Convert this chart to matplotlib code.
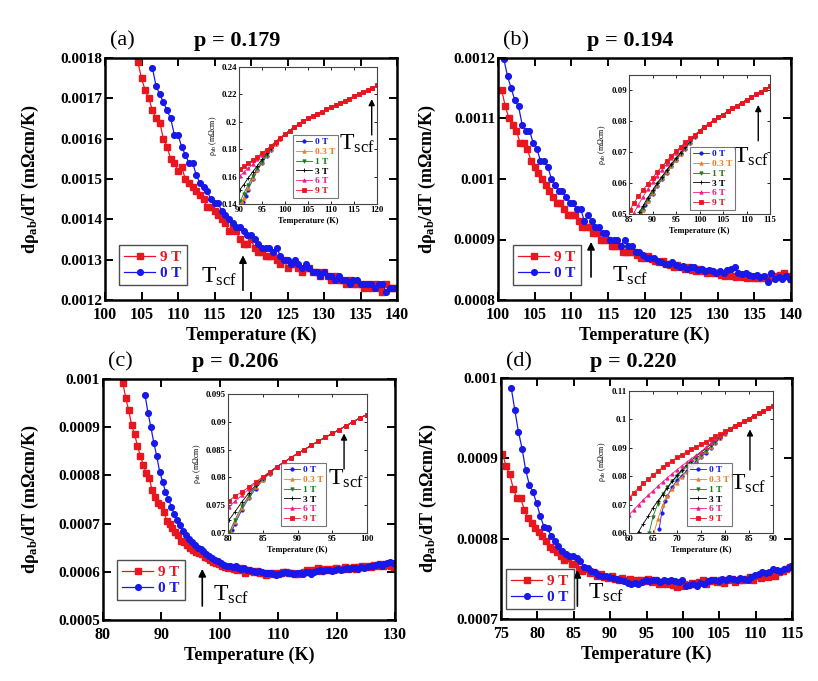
import numpy as np
import matplotlib
matplotlib.use('Agg')
import matplotlib.pyplot as plt
from matplotlib.ticker import FormatStrFormatter, MultipleLocator

plt.rcParams.update({
    'font.family': ['Liberation Serif', 'DejaVu Serif'],
    'font.weight': 'bold',
    'mathtext.fontset': 'custom',
    'mathtext.rm': 'Liberation Serif:weight=bold',
    'mathtext.bf': 'Liberation Serif:weight=bold',
    'mathtext.it': 'Liberation Serif:italic:weight=bold',
    'mathtext.sf': 'Liberation Serif:weight=normal',
    'mathtext.default': 'rm',
})

# ---------------- main-panel data (dρ/dT, 0.5 K steps) ----------------
a_T0_9T, a_T0_0T = 104.5, 106.5
a_9T = [0.00179,0.00175,0.00172,0.00170,0.00167,0.00165,0.00164,0.00160,0.00158,0.00155,
        0.00154,0.00152,0.00153,0.00150,0.00149,0.00148,0.00147,0.00146,0.00145,0.00143,
        0.00143,0.00142,0.00141,0.00140,0.00139,0.00137,0.00138,0.00137,0.00135,0.00134,
        0.00134,0.00135,0.00133,0.00132,0.00132,0.00131,0.00131,0.00131,0.00130,0.00129,
        0.00130,0.00128,0.00129,0.00129,0.00128,0.00127,0.00128,0.00128,0.00127,0.00127,
        0.00126,0.00127,0.00126,0.00125,0.00126,0.00125,0.00125,0.00124,0.00125,0.00124,
        0.00124,0.00124,0.00123,0.00124,0.00123,0.00124,0.00123,0.00122,0.00124,0.00123,0.00123,0.00123]
a_0T = [0.001775,0.00173,0.00171,0.00169,0.00167,0.00165,0.00161,0.00161,0.00158,0.00156,
        0.00154,0.00154,0.00151,0.00149,0.00148,0.00147,0.00145,0.00144,0.00144,0.00142,
        0.00141,0.00140,0.00139,0.00138,0.00138,0.00137,0.00136,0.00136,0.00135,0.00134,
        0.00133,0.00133,0.00133,0.00132,0.00133,0.00131,0.00130,0.00130,0.00129,0.00130,
        0.00129,0.00128,0.00129,0.00128,0.00127,0.00127,0.00126,0.00127,0.00126,0.00126,
        0.00125,0.00126,0.00125,0.00125,0.00124,0.00125,0.00125,0.00124,0.00124,0.00124,
        0.00124,0.00123,0.00124,0.00124,0.00122,0.00123,0.00123,0.00123]

b_T0_9T, b_T0_0T = 100.5, 100.8
b_9T = [0.001147,0.00112,0.00110,0.00109,0.00108,0.00106,0.00106,0.00105,0.00103,0.00102,
        0.00101,0.00100,0.00099,0.00098,0.00097,0.00096,0.00096,0.00095,0.00094,0.00094,
        0.00094,0.00093,0.00092,0.00092,0.00092,0.00091,0.00091,0.00090,0.00090,0.00090,
        0.00089,0.00089,0.00089,0.00088,0.00088,0.00088,0.00088,0.000875,0.00087,0.00087,
        0.000872,0.000868,0.000865,0.000862,0.000865,0.00086,0.000858,0.000855,0.000858,0.000855,
        0.000852,0.000855,0.00085,0.000848,0.000852,0.000848,0.000845,0.000848,0.000845,0.000845,
        0.000842,0.00084,0.000842,0.00084,0.000838,0.00084,0.000838,0.000837,0.000838,0.000836,
        0.000837,0.000836,0.000838,0.000836,0.000838,0.00084,0.000842,0.000845,0.00084,0.000835]
b_0T = [0.001198,0.00117,0.00115,0.00113,0.00112,0.00109,0.00108,0.00108,0.00106,0.00105,
        0.00103,0.00103,0.00102,0.00100,0.00099,0.00098,0.00098,0.00097,0.00096,0.00096,
        0.00095,0.00095,0.00093,0.00094,0.00093,0.00092,0.00092,0.00091,0.00091,0.00090,
        0.00090,0.00090,0.00089,0.00090,0.00089,0.00089,0.00088,0.00088,0.000875,0.00087,
        0.00087,0.00087,0.000865,0.000862,0.00086,0.00086,0.000862,0.000858,0.000855,0.000857,
        0.000852,0.000855,0.000855,0.00085,0.000852,0.000848,0.00085,0.000848,0.000845,0.000848,
        0.000845,0.00085,0.000852,0.000855,0.000845,0.000843,0.000845,0.000842,0.00084,0.000842,
        0.000838,0.00084,0.00083,0.000845,0.000835,0.000838,0.000835,0.00084,0.000835]

c_T0_9T, c_T0_0T = 83.4, 87.2
c_9T = [0.000992,0.000960,0.000935,0.000905,0.000885,0.000862,0.000840,0.000822,0.000805,0.000795,
        0.000770,0.000755,0.000742,0.000738,0.000725,0.000706,0.000700,0.000690,0.000683,0.000676,
        0.000664,0.000662,0.000655,0.000650,0.000646,0.000641,0.000638,0.000636,0.000630,0.000628,
        0.000625,0.000620,0.000618,0.000617,0.000612,0.000610,0.000607,0.000609,0.000605,0.000604,
        0.000607,0.000603,0.000598,0.000603,0.000602,0.000600,0.000601,0.000598,0.000597,0.000594,
        0.000597,0.000596,0.000598,0.000596,0.000598,0.000600,0.000599,0.000597,0.000597,0.000596,
        0.000596,0.000597,0.000599,0.000603,0.000600,0.000604,0.000603,0.000607,0.000602,0.000605,
        0.000604,0.000606,0.000603,0.000607,0.000606,0.000605,0.000609,0.000606,0.000608,0.000610,
        0.000606,0.000609,0.000611,0.000610,0.000612,0.000609,0.000614,0.000612,0.000616,0.000613,
        0.000617,0.000615,0.000612,0.000610]
c_0T = [0.000967,0.000930,0.000900,0.000868,0.000840,0.000808,0.000787,0.000766,0.000752,0.000735,
        0.000719,0.000707,0.000698,0.000685,0.000676,0.000668,0.000662,0.000656,0.000650,0.000647,
        0.000643,0.000637,0.000633,0.000628,0.000624,0.000622,0.000618,0.000614,0.000613,0.000611,
        0.000609,0.000612,0.000607,0.000606,0.000608,0.000604,0.000603,0.000601,0.000600,0.000601,
        0.000599,0.000598,0.000597,0.000598,0.000596,0.000593,0.000595,0.000597,0.000599,0.000598,
        0.000597,0.000595,0.000597,0.000598,0.000596,0.000599,0.000600,0.000595,0.000600,0.000601,
        0.000603,0.000602,0.000604,0.000603,0.000601,0.000604,0.000606,0.000604,0.000605,0.000607,
        0.000606,0.000608,0.000607,0.000605,0.000609,0.000608,0.000610,0.000612,0.000611,0.000614,
        0.000616,0.000613,0.000617,0.000619,0.000620,0.000618]

d_T0_9T, d_T0_0T = 75.2, 76.4
d_9T = [0.000906,0.000890,0.000880,0.000862,0.000850,0.000850,0.000836,0.000826,0.000820,0.000813,
        0.000808,0.000803,0.000797,0.000790,0.000787,0.000783,0.000778,0.000774,0.000776,0.000768,
        0.000768,0.000762,0.000760,0.000762,0.000757,0.000758,0.000754,0.000756,0.000752,0.000751,
        0.000753,0.000750,0.000749,0.000751,0.000748,0.000750,0.000746,0.000748,0.000749,0.000747,
        0.000750,0.000746,0.000748,0.000744,0.000746,0.000743,0.000745,0.000742,0.000740,0.000741,
        0.000744,0.000742,0.000745,0.000743,0.000746,0.000748,0.000744,0.000747,0.000749,0.000746,
        0.000748,0.000745,0.000748,0.000750,0.000746,0.000749,0.000748,0.000750,0.000752,0.000749,
        0.000753,0.000751,0.000754,0.000752,0.000756,0.000754,0.000758,0.000760,0.000762,0.000765]
d_0T = [0.000988,0.000960,0.000933,0.000912,0.000885,0.000867,0.000858,0.000844,0.000828,0.000815,
        0.000813,0.000803,0.000797,0.000791,0.000785,0.000781,0.000779,0.000779,0.000776,0.000772,
        0.000765,0.000763,0.000760,0.000758,0.000755,0.000753,0.000754,0.000752,0.000751,0.000750,
        0.000748,0.000747,0.000745,0.000744,0.000745,0.000744,0.000746,0.000748,0.000747,0.000749,
        0.000748,0.000746,0.000748,0.000747,0.000749,0.000747,0.000746,0.000748,0.000741,0.000742,
        0.000743,0.000741,0.000745,0.000744,0.000747,0.000748,0.000749,0.000747,0.000750,0.000749,
        0.000751,0.000750,0.000749,0.000751,0.000750,0.000749,0.000752,0.000755,0.000756,0.000758,
        0.000757,0.000759,0.000762,0.000761,0.000760,0.000762,0.000764,0.000766]

# ---------------- inset data (ρab vs T for each field) ----------------
fields = ['0 T', '0.3 T', '1 T', '3 T', '6 T', '9 T']

ia_T_common = [100,101,102,103,104,105,106,107,108,109,110,111,112,113,114,115,116,117,118,119,120]
ia_rho_common = [0.191,0.1935,0.196,0.1983,0.2005,0.2025,0.2042,0.2058,0.2074,0.209,0.2106,
                 0.2122,0.2138,0.2154,0.217,0.2186,0.2202,0.2218,0.2234,0.225,0.2265]
ia_T_low = {
    '0 T':   [90.9,91.5,92,93,94,95,96,97,98,99],
    '0.3 T': [90.6,91,92,93,94,95,96,97,98,99],
    '1 T':   [90.3,91,92,93,94,95,96,97,98,99],
    '3 T':   [90.2,91,92,93,94,95,96,97,98,99],
    '6 T':   [90.2,91,92,93,94,95,96,97,98,99],
    '9 T':   [90.2,91,92,93,94,95,96,97,98,99],
}
ia_rho_low = {
    '0 T':   [0.1415,0.146,0.1505,0.158,0.1645,0.17,0.175,0.1795,0.1835,0.1872],
    '0.3 T': [0.1412,0.1445,0.152,0.159,0.165,0.1705,0.1755,0.18,0.184,0.1875],
    '1 T':   [0.142,0.1475,0.154,0.1605,0.166,0.171,0.176,0.1802,0.1842,0.1877],
    '3 T':   [0.1505,0.154,0.159,0.1635,0.168,0.1725,0.177,0.181,0.1847,0.188],
    '6 T':   [0.1605,0.163,0.166,0.169,0.1725,0.176,0.1793,0.1825,0.1855,0.1885],
    '9 T':   [0.1655,0.1675,0.1697,0.172,0.1745,0.177,0.1797,0.1827,0.1856,0.1885],
}

ib_T_common = [100,101,102,103,104,105,106,107,108,109,110,111,112,113,114,115]
ib_rho_common = [0.0769,0.0781,0.0792,0.0803,0.0813,0.0822,0.0832,0.0842,0.0851,0.086,
                 0.0869,0.0878,0.0887,0.0896,0.0905,0.0913]
ib_T_low = {
    '0 T':   [87.9,88.5,89,90,91,92,93,94,95,96,97,98,99],
    '0.3 T': [87.6,88,89,90,91,92,93,94,95,96,97,98,99],
    '1 T':   [87.4,88,89,90,91,92,93,94,95,96,97,98,99],
    '3 T':   [87.2,88,89,90,91,92,93,94,95,96,97,98,99],
    '6 T':   [86,87,88,89,90,91,92,93,94,95,96,97,98,99],
    '9 T':   [85.2,86,87,88,89,90,91,92,93,94,95,96,97,98,99],
}
ib_rho_low = {
    '0 T':   [0.0513,0.0528,0.0541,0.0566,0.059,0.0612,0.0633,0.0654,0.0674,0.0693,0.0712,0.0731,0.0750],
    '0.3 T': [0.0503,0.0514,0.0543,0.0569,0.0593,0.0615,0.0636,0.0656,0.0676,0.0695,0.0714,0.0732,0.0751],
    '1 T':   [0.0503,0.0519,0.0547,0.0572,0.0596,0.0618,0.0639,0.0659,0.0678,0.0697,0.0715,0.0733,0.0752],
    '3 T':   [0.0505,0.0527,0.0553,0.0577,0.06,0.0621,0.0642,0.0662,0.0681,0.0699,0.0717,0.0735,0.0753],
    '6 T':   [0.0502,0.053,0.0556,0.058,0.0602,0.0623,0.0643,0.0662,0.068,0.0697,0.0713,0.0728,0.0742,0.0755],
    '9 T':   [0.0513,0.0535,0.0557,0.0578,0.0598,0.0617,0.0636,0.0654,0.0671,0.0688,0.0703,0.0718,0.0732,0.0745,0.0757],
}

ic_T_common = [87,88,89,90,91,92,93,94,95,96,97,98,99,100]
ic_rho_common = [0.0819,0.0827,0.0835,0.0843,0.085,0.0858,0.0865,0.0872,0.0879,0.0886,0.0893,0.09,0.0907,0.0913]
ic_T_low = {
    '0 T':   [80.6,81,82,83,84,85,86],
    '0.3 T': [80.4,81,82,83,84,85,86],
    '1 T':   [80.2,81,82,83,84,85,86],
    '3 T':   [80.1,81,82,83,84,85,86],
    '6 T':   [80.1,81,82,83,84,85,86],
    '9 T':   [80.1,81,82,83,84,85,86],
}
ic_rho_low = {
    '0 T':   [0.0705,0.0716,0.0742,0.0763,0.078,0.0795,0.0807],
    '0.3 T': [0.0702,0.072,0.0745,0.0765,0.0782,0.0796,0.0808],
    '1 T':   [0.0701,0.0724,0.0748,0.0767,0.0784,0.0797,0.0808],
    '3 T':   [0.0723,0.0738,0.0756,0.0772,0.0786,0.0799,0.0809],
    '6 T':   [0.0746,0.0757,0.0768,0.0779,0.079,0.08,0.081],
    '9 T':   [0.0758,0.0766,0.0774,0.0783,0.0792,0.0801,0.081],
}

id_T_common = [81,82,83,84,85,86,87,88,89,90]
id_rho_common = [0.0967,0.0976,0.0985,0.0994,0.1003,0.1012,0.1021,0.103,0.1039,0.1048]
id_T_low = {
    '0 T':   [66.3,66.8,67.5,68,69,70,71,72,73,74,75,76,77,78,79,80],
    '0.3 T': [65.2,66,67,68,69,70,71,72,73,74,75,76,77,78,79,80],
    '1 T':   [64.2,65,66,67,68,69,70,71,72,73,74,75,76,77,78,79,80],
    '3 T':   [61.8,62,63,64,65,66,67,68,69,70,71,72,73,74,75,76,77,78,79,80],
    '6 T':   [60,61,62,63,64,65,66,67,68,69,70,71,72,73,74,75,76,77,78,79,80],
    '9 T':   [60,61,62,63,64,65,66,67,68,69,70,71,72,73,74,75,76,77,78,79,80],
}
id_rho_low = {
    '0 T':   [0.0614,0.067,0.0711,0.073,0.0762,0.0785,0.0802,0.0818,0.0834,0.0849,0.0866,0.0883,0.0901,0.0918,0.0935,0.0952],
    '0.3 T': [0.06,0.0648,0.07,0.073,0.0755,0.0777,0.0797,0.0815,0.0832,0.0848,0.087,0.0887,0.0903,0.0919,0.0935,0.095],
    '1 T':   [0.06,0.0658,0.0702,0.0737,0.0762,0.0782,0.08,0.0817,0.0833,0.0848,0.0862,0.0876,0.089,0.0905,0.092,0.0935,0.095],
    '3 T':   [0.06,0.0605,0.0633,0.0659,0.0689,0.0713,0.0735,0.0758,0.0782,0.0803,0.0822,0.0839,0.0855,0.087,0.0884,0.0898,0.0912,0.0926,0.0939,0.0952],
    '6 T':   [0.0664,0.0682,0.07,0.0717,0.0733,0.0749,0.0765,0.078,0.0795,0.0809,0.0823,0.0836,0.0849,0.0862,0.0874,0.0886,0.0902,0.0916,0.093,0.0942,0.0953],
    '9 T':   [0.0724,0.0742,0.0759,0.0775,0.079,0.0804,0.0818,0.0831,0.0843,0.0855,0.0866,0.0876,0.0886,0.0895,0.0904,0.0913,0.0922,0.0931,0.094,0.0949,0.0958],
}

panel_labels = ['(a)', '(b)', '(c)', '(d)']
dopings = ['p = 0.179', 'p = 0.194', 'p = 0.206', 'p = 0.220']

# ---------------- styling ----------------
RED = '#e8161e'
BLUE = '#1818e8'
field_style = {
    '0 T':   dict(color=BLUE, marker='o', ms=2.4),
    '0.3 T': dict(color='#f47b20', marker='^', ms=2.4),
    '1 T':   dict(color='#1d7a1d', marker='v', ms=2.4),
    '3 T':   dict(color='black', marker='+', ms=2.6),
    '6 T':   dict(color='#ec1c8c', marker='^', ms=2.4),
    '9 T':   dict(color=RED, marker='s', ms=3.4),
}

W, H = 818, 681
fig = plt.figure(figsize=(W / 100, H / 100), dpi=100)


def rect(l, t, r, b):
    return [l / W, 1 - b / H, (r - l) / W, (b - t) / H]


TSCF = r'T$_{\mathsf{scf}}$'

panels = [
    dict(main=(105, 58, 397, 300), inset=(239, 67, 377, 204),
         xlim=(100, 140), xstep=5, ylim=(0.0012, 0.0018),
         red=(a_T0_9T, a_9T), blue=(a_T0_0T, a_0T),
         leg=(119, 245), ileg=(293, 135),
         arrow=(118.9, 0.001224, 0.001311), tlab=(113.2, 0.001242),
         ixlim=(90, 120), iylim=(0.14, 0.24), iystep=0.02,
         ins=(ia_T_common, ia_rho_common, ia_T_low, ia_rho_low),
         iarrow=(118.85, 0.1904, 0.2166), itlab=(111.7, 0.1794),
         ylab_x=30, title_y=41),
    dict(main=(498, 58, 791, 300), inset=(629, 75, 770, 214),
         xlim=(100, 140), xstep=5, ylim=(0.0008, 0.0012),
         red=(b_T0_9T, b_9T), blue=(b_T0_0T, b_0T),
         leg=(513, 245), ileg=(690, 147),
         arrow=(112.7, 0.000838, 0.000896), tlab=(115.5, 0.00083),
         ixlim=(85, 115), iylim=(0.05, 0.095), iystep=0.01,
         ins=(ib_T_common, ib_rho_common, ib_T_low, ib_rho_low),
         iarrow=(112.5, 0.0737, 0.0853), itlab=(107.1, 0.0665),
         ylab_x=427, title_y=41),
    dict(main=(103, 379, 395, 620), inset=(228, 394, 367, 533),
         xlim=(80, 130), xstep=10, ylim=(0.0005, 0.001),
         red=(c_T0_9T, c_9T), blue=(c_T0_0T, c_0T),
         leg=(117, 560), ileg=(281, 463),
         arrow=(97.0, 0.000529, 0.000606), tlab=(98.9, 0.000541),
         ixlim=(80, 100), iylim=(0.07, 0.095), iystep=0.005,
         ins=(ic_T_common, ic_rho_common, ic_T_low, ic_rho_low),
         iarrow=(96.7, 0.0815, 0.0879), itlab=(94.4, 0.0786),
         ylab_x=30, title_y=362),
    dict(main=(501, 378, 792, 619), inset=(629, 391, 773, 533),
         xlim=(75, 115), xstep=5, ylim=(0.0007, 0.001),
         red=(d_T0_9T, d_9T), blue=(d_T0_0T, d_0T),
         leg=(506, 569), ileg=(687, 463),
         arrow=(85.5, 0.000716, 0.000761), tlab=(87.0, 0.000725),
         ixlim=(60, 90), iylim=(0.06, 0.11), iystep=0.01,
         ins=(id_T_common, id_rho_common, id_T_low, id_rho_low),
         iarrow=(85.2, 0.0822, 0.0965), itlab=(81.0, 0.0751),
         ylab_x=428, title_y=362),
]

for i, p in enumerate(panels):
    l, t, r, b = p['main']
    ax = fig.add_axes(rect(l, t, r, b))
    T0r, vr = p['red']
    T0b, vb = p['blue']
    Tr = T0r + 0.5 * np.arange(len(vr))
    Tb = T0b + 0.5 * np.arange(len(vb))
    ax.plot(Tr, vr, '-', color=RED, marker='s', ms=4.3, lw=0.9, label='9 T')
    ax.plot(Tb, vb, '-', color=BLUE, marker='o', ms=4.1, lw=0.9, label='0 T')
    ax.set_xlim(*p['xlim'])
    ax.set_ylim(*p['ylim'])
    ax.xaxis.set_major_locator(MultipleLocator(p['xstep']))
    ax.yaxis.set_major_locator(MultipleLocator(0.0001))
    ax.yaxis.set_major_formatter(FormatStrFormatter('%g'))
    ax.tick_params(direction='in', top=True, right=True, length=6, width=1.4)
    ax.tick_params(axis='x', labelsize=11.5, pad=5)
    ax.tick_params(axis='y', labelsize=11.0, pad=2)
    for s in ax.spines.values():
        s.set_linewidth(1.8)
    for lab in ax.get_xticklabels() + ax.get_yticklabels():
        lab.set_fontweight('bold')

    leg = ax.legend(loc='upper left', bbox_to_anchor=(p['leg'][0] / W, 1 - p['leg'][1] / H),
                    bbox_transform=fig.transFigure, borderaxespad=0, fontsize=11,
                    handlelength=2.0, handletextpad=0.35, borderpad=0.35, labelspacing=0.15,
                    numpoints=1, fancybox=False, frameon=True, edgecolor='#222222')
    leg.get_frame().set_linewidth(1.0)
    for txt, c in zip(leg.get_texts(), [RED, BLUE]):
        txt.set_color(c)
        txt.set_fontweight('bold')

    # Tscf arrow and label
    xa, y0, y1 = p['arrow']
    ax.annotate('', xy=(xa, y1), xytext=(xa, y0),
                arrowprops=dict(arrowstyle='-|>', color='black', lw=1.2, mutation_scale=11,
                                shrinkA=0, shrinkB=0))
    ax.text(p['tlab'][0], p['tlab'][1], TSCF, fontsize=17,
            fontweight='normal', ha='left', va='baseline')

    # labels and titles
    fig.text(p['ylab_x'] / W, 1 - (t + b) / 2 / H, r'd$\rho_{ab}$/dT (m$\Omega$cm/K)',
             rotation=90, ha='center', va='center', fontsize=13, fontweight='bold')
    fig.text((l + r) / 2 / W, 1 - (b + 35) / H, 'Temperature (K)', ha='center', va='center',
             fontsize=13, fontweight='bold')
    fig.text((l + 5) / W, 1 - p['title_y'] / H, panel_labels[i], ha='left', va='center',
             fontsize=16, fontweight='normal')
    fig.text((l + 132) / W, 1 - p['title_y'] / H, dopings[i], ha='center', va='center',
             fontsize=16, fontweight='bold')

    # ---------------- inset ----------------
    il, it, ir, ib = p['inset']
    ax2 = fig.add_axes(rect(il, it, ir, ib))
    ax2.set_facecolor('white')
    Tc, rc, Tlow, rlow = p['ins']
    for f in fields:
        st = field_style[f]
        ax2.plot(list(Tlow[f]) + list(Tc), list(rlow[f]) + list(rc), '-', lw=0.6,
                 color=st['color'], marker=st['marker'], ms=st['ms'], mew=0.6, label=f)
    ax2.set_xlim(*p['ixlim'])
    ax2.set_ylim(*p['iylim'])
    ax2.xaxis.set_major_locator(MultipleLocator(5))
    ax2.yaxis.set_major_locator(MultipleLocator(p['iystep']))
    ax2.yaxis.set_major_formatter(FormatStrFormatter('%g'))
    ax2.tick_params(direction='in', top=True, right=True, length=2.5, width=0.6,
                    labelsize=6.3, pad=1.5)
    for s in ax2.spines.values():
        s.set_linewidth(0.8)
        s.set_color('#444444')
    for lab in ax2.get_xticklabels() + ax2.get_yticklabels():
        lab.set_fontweight('bold')
    ax2.set_xlabel('Temperature (K)', fontsize=6.0, fontweight='bold', labelpad=2)
    ax2.set_ylabel(r'$\mathsf{\rho_{ab}}$ (m$\mathsf{\Omega}$cm)', fontsize=5.8,
                   fontweight='normal', labelpad=2)
    lg2 = ax2.legend(loc='upper left', bbox_to_anchor=(p['ileg'][0] / W, 1 - p['ileg'][1] / H),
                     bbox_transform=fig.transFigure, borderaxespad=0, fontsize=6.8,
                     handlelength=1.7, handletextpad=0.3, borderpad=0.3, labelspacing=0.12,
                     numpoints=1, fancybox=False, frameon=True, edgecolor='#555555')
    lg2.get_frame().set_linewidth(0.8)
    for txt, f in zip(lg2.get_texts(), fields):
        txt.set_color(field_style[f]['color'])
        txt.set_fontweight('bold')
    xa, y0, y1 = p['iarrow']
    ax2.annotate('', xy=(xa, y1), xytext=(xa, y0),
                 arrowprops=dict(arrowstyle='-|>', color='black', lw=1.0, mutation_scale=9,
                                 shrinkA=0, shrinkB=0))
    ax2.text(p['itlab'][0], p['itlab'][1], TSCF, fontsize=17,
             fontweight='normal', ha='left', va='baseline')

fig.savefig('out.png', dpi=100)
